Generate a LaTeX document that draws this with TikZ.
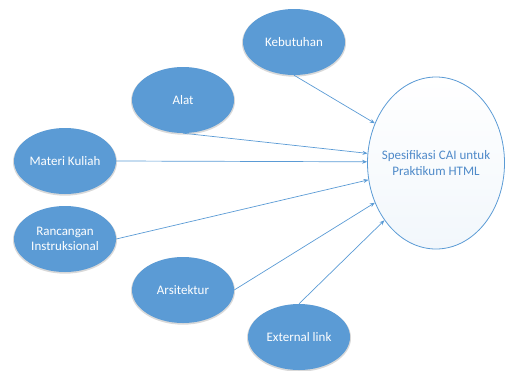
\documentclass[tikz,border=0pt]{standalone}
\usepackage{fontspec}
\setmainfont{Carlito}
\usepackage{tikz}
\usetikzlibrary{arrows.meta,shapes.geometric,shadows}
\definecolor{caiblue}{HTML}{5B9BD5}
\definecolor{caitext}{HTML}{4F8AC9}

\begin{document}
\begin{tikzpicture}[x=1pt,y=-1pt,
  topic/.style={ellipse,fill=caiblue,text=white,minimum width=102pt,minimum height=66pt,inner xsep=-8pt,inner ysep=0pt,align=center,font=\fontsize{13}{15.5}\selectfont,drop shadow={shadow xshift=0pt,shadow yshift=-1pt,shadow scale=1.02,opacity=0.3}},
  goal/.style={ellipse,draw=caiblue,line width=0.8pt,top color=white,bottom color=caiblue!8,text=caitext,minimum width=137pt,minimum height=172pt,inner xsep=-12pt,align=center,font=\fontsize{13}{16.5}\selectfont},
  link/.style={->,caiblue,line width=0.7pt},
  >={Stealth[length=5pt,width=4pt]}]

  \useasboundingbox (0,0) rectangle (505,370);

  % Goal node
  \node[goal] (spec) at (436,163) {Spesifikasi CAI untuk\\Praktikum HTML};

  % Inputs
  \node[topic] (kebutuhan) at (294,42)  {Kebutuhan};
  \node[topic] (alat)      at (183,100) {Alat};
  \node[topic] (materi)    at (65,161)  {Materi Kuliah};
  \node[topic] (rancangan) at (65,239)  {Rancangan\\Instruksional};
  \node[topic] (arsitektur) at (183,290) {Arsitektur};
  \node[topic] (external)  at (299,337) {External link};

  \draw[link] (kebutuhan.south) -- (spec.147);
  \draw[link] (alat.south)      -- (spec.172);
  \draw[link] (materi.east)     -- (spec.179);
  \draw[link] (rancangan.east)  -- (spec.194);
  \draw[link] (arsitektur.east) -- (spec.213);
  \draw[link] (external.north)  -- (spec.228);

\end{tikzpicture}
\end{document}
